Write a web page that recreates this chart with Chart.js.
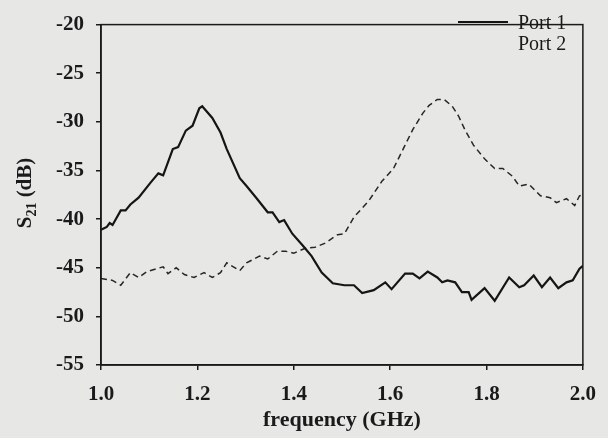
<!DOCTYPE html>
<html>
<head>
<meta charset="utf-8">
<script src="https://cdn.jsdelivr.net/npm/chart.js@4/dist/chart.umd.min.js"></script>
<style>
    html, body { margin: 0; padding: 0; background: #e7e7e5; }
    #wrap { width: 608px; height: 438px; position: relative; }
</style>
</head>
<body>
<div id="wrap"><canvas id="s21Chart" width="608" height="438"></canvas></div>
<script>
// ==================== DATA ====================

const SERIES_LABELS = ['Port 1', 'Port 2'];

// Port 1 (solid)
const port1Freq = [1.000, 1.012, 1.018, 1.024, 1.041, 1.051, 1.061, 1.078, 1.102, 1.119, 1.129, 1.149, 1.160,
    1.176, 1.190, 1.204, 1.210, 1.231, 1.248, 1.261, 1.288, 1.302, 1.322, 1.346, 1.356, 1.370, 1.380,
    1.397, 1.420, 1.437, 1.458, 1.481, 1.505, 1.525, 1.542, 1.566, 1.590, 1.603, 1.631, 1.647, 1.661,
    1.678, 1.698, 1.708, 1.719, 1.735, 1.749, 1.763, 1.769, 1.796, 1.817, 1.847, 1.868, 1.878, 1.898,
    1.915, 1.932, 1.949, 1.966, 1.979, 1.993, 2.000];
const port1Db = [-41.1, -40.8, -40.4, -40.6, -39.1, -39.1, -38.5, -37.8, -36.3, -35.3, -35.5, -32.8, -32.6,
    -30.9, -30.4, -28.6, -28.4, -29.6, -31.1, -32.8, -35.8, -36.6, -37.8, -39.3, -39.3, -40.3, -40.1,
    -41.5, -42.8, -43.8, -45.5, -46.6, -46.8, -46.8, -47.6, -47.3, -46.5, -47.2, -45.6, -45.6, -46.1,
    -45.4, -46.0, -46.5, -46.3, -46.5, -47.5, -47.5, -48.3, -47.1, -48.4, -46.0, -47.0, -46.8, -45.8,
    -47.0, -46.0, -47.1, -46.5, -46.3, -45.1, -44.8];

// Port 2 (dashed)
const port2Freq = [1.000, 1.024, 1.041, 1.061, 1.078, 1.095, 1.129, 1.139, 1.156, 1.173, 1.193, 1.214, 1.231,
    1.248, 1.261, 1.288, 1.302, 1.329, 1.346, 1.366, 1.383, 1.400, 1.424, 1.444, 1.464, 1.491, 1.505,
    1.525, 1.556, 1.583, 1.607, 1.631, 1.647, 1.668, 1.681, 1.698, 1.712, 1.729, 1.742, 1.756, 1.773,
    1.796, 1.817, 1.834, 1.854, 1.868, 1.888, 1.912, 1.932, 1.945, 1.966, 1.983, 1.993, 2.000];
const port2Db = [-46.1, -46.3, -46.8, -45.5, -46.0, -45.4, -44.9, -45.6, -45.0, -45.7, -46.0, -45.5, -46.0,
    -45.5, -44.5, -45.3, -44.5, -43.8, -44.1, -43.3, -43.3, -43.5, -43.0, -42.9, -42.5, -41.6, -41.5,
    -39.8, -38.1, -36.1, -34.8, -32.4, -30.8, -29.1, -28.3, -27.7, -27.7, -28.4, -29.4, -30.9, -32.4,
    -33.8, -34.8, -34.8, -35.6, -36.6, -36.4, -37.6, -37.8, -38.3, -37.9, -38.6, -37.6, -37.5];

// Axis ranges / ticks
const X_MIN = 1.0, X_MAX = 2.0, X_STEP = 0.2;
const Y_MIN = -55, Y_MAX = -20, Y_STEP = 5;

// ==================== HELPERS ====================

const SERIF = '"Liberation Serif", "Times New Roman", serif';
const INK = '#1a1a1a';

function toPoints(xs, ys) {
    return xs.map((x, i) => ({ x: x, y: ys[i] }));
}

// frame on top/right, S21 title with subscript, legend
const paperPlugin = {
    id: 'paper',
    afterDraw(chart) {
        const ctx = chart.ctx;
        const a = chart.chartArea;
        ctx.save();

        // box
        ctx.strokeStyle = INK;
        ctx.lineWidth = 1.5;
        ctx.strokeRect(a.left, a.top, a.right - a.left, a.bottom - a.top);

        // y title: S21 (dB)
        ctx.translate(24, 193);
        ctx.rotate(-Math.PI / 2);
        ctx.fillStyle = INK;
        ctx.textBaseline = 'alphabetic';
        ctx.font = 'bold 21px ' + SERIF;
        const wS = ctx.measureText('S').width;
        ctx.font = 'bold 14px ' + SERIF;
        const wSub = ctx.measureText('21').width;
        ctx.font = 'bold 21px ' + SERIF;
        const wRest = ctx.measureText(' (dB)').width;
        let x0 = -(wS + wSub + wRest) / 2;
        ctx.fillText('S', x0, 7);
        ctx.font = 'bold 14px ' + SERIF;
        ctx.fillText('21', x0 + wS, 12);
        ctx.font = 'bold 21px ' + SERIF;
        ctx.fillText(' (dB)', x0 + wS + wSub, 7);
        ctx.restore();

        // legend
        ctx.save();
        ctx.fillStyle = INK;
        ctx.font = '20px ' + SERIF;
        ctx.textBaseline = 'alphabetic';
        chart.data.datasets.forEach((ds, i) => {
            const y = 29 + i * 21;
            if (!ds.borderDash || ds.borderDash.length === 0) {
                ctx.strokeStyle = ds.borderColor;
                ctx.lineWidth = ds.borderWidth;
                ctx.beginPath();
                ctx.moveTo(458, y - 7);
                ctx.lineTo(508, y - 7);
                ctx.stroke();
            }
            ctx.fillText(ds.label, 518, y);
        });
        ctx.restore();
    }
};

// ==================== CHART ====================

function createChart() {
    const ctx = document.getElementById('s21Chart');

    return new Chart(ctx, {
        type: 'line',
        data: {
            datasets: [{
                label: SERIES_LABELS[0],
                data: toPoints(port1Freq, port1Db),
                borderColor: '#151515',
                borderWidth: 2.2,
                pointRadius: 0,
                tension: 0,
                fill: false
            }, {
                label: SERIES_LABELS[1],
                data: toPoints(port2Freq, port2Db),
                borderColor: '#262626',
                borderWidth: 1.5,
                borderDash: [6, 4],
                pointRadius: 0,
                tension: 0,
                fill: false
            }]
        },
        options: {
            responsive: false,
            animation: false,
            layout: { padding: { top: 16, right: 15, left: 0, bottom: 0 } },
            plugins: {
                legend: { display: false },
                tooltip: { enabled: false }
            },
            scales: {
                x: {
                    type: 'linear',
                    min: X_MIN,
                    max: X_MAX,
                    afterFit: (scale) => { scale.height = 73; },
                    border: { color: INK, width: 1.5 },
                    grid: { drawOnChartArea: false, tickLength: 5, color: INK, lineWidth: 1.5 },
                    ticks: {
                        stepSize: X_STEP,
                        color: INK,
                        padding: 12,
                        maxRotation: 0,
                        font: { family: SERIF, size: 21, weight: 'bold' },
                        callback: (v) => Number(v).toFixed(1)
                    },
                    title: {
                        display: true,
                        text: 'frequency (GHz)',
                        color: INK,
                        padding: { top: 2 },
                        font: { family: SERIF, size: 22, weight: 'bold' }
                    }
                },
                y: {
                    min: Y_MIN,
                    max: Y_MAX,
                    afterFit: (scale) => { scale.width = 101; },
                    border: { color: INK, width: 1.5 },
                    grid: { drawOnChartArea: false, tickLength: 5, color: INK, lineWidth: 1.5 },
                    ticks: {
                        stepSize: Y_STEP,
                        color: INK,
                        padding: 12,
                        font: { family: SERIF, size: 21, weight: 'bold' }
                    }
                }
            }
        },
        plugins: [paperPlugin]
    });
}

window.addEventListener('DOMContentLoaded', () => {
    createChart();
});
</script>
</body>
</html>
